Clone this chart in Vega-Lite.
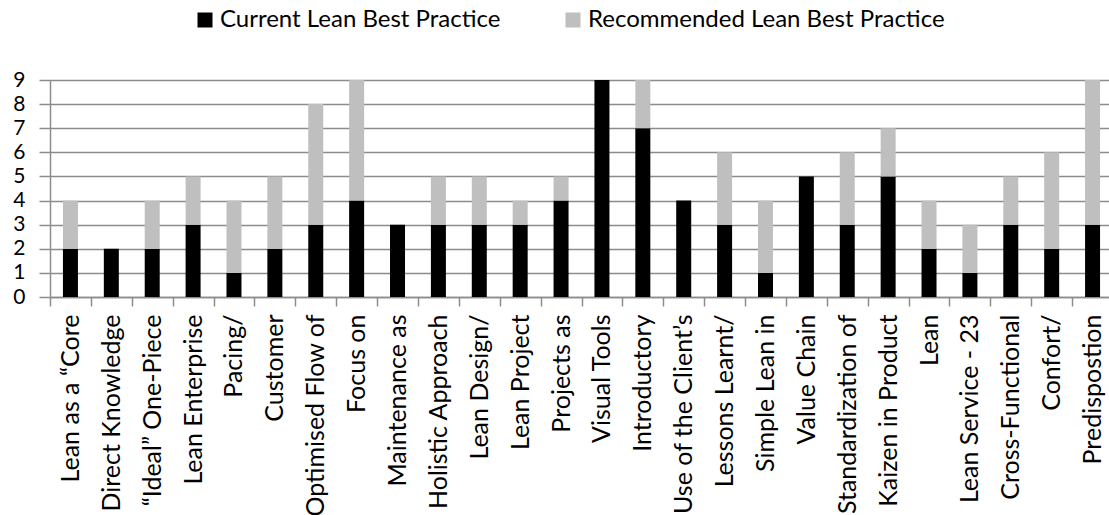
{
  "$schema": "https://vega.github.io/schema/vega-lite/v6.json",
  "width": 1063,
  "height": 217,
  "autosize": {"type": "none"},
  "padding": {"left": 50, "top": 80, "right": -4, "bottom": 218},
  "background": "white",
  "config": {
    "font": "Lato",
    "view": {"stroke": null}
  },
  "data": {
    "values": [
      {"cat": "Lean as a “Core", "series": "Current Lean Best Practice", "ord": 1, "value": 2},
      {"cat": "Lean as a “Core", "series": "Recommended Lean Best Practice", "ord": 2, "value": 2},
      {"cat": "Direct Knowledge", "series": "Current Lean Best Practice", "ord": 1, "value": 2},
      {"cat": "Direct Knowledge", "series": "Recommended Lean Best Practice", "ord": 2, "value": 0},
      {"cat": "“Ideal” One-Piece", "series": "Current Lean Best Practice", "ord": 1, "value": 2},
      {"cat": "“Ideal” One-Piece", "series": "Recommended Lean Best Practice", "ord": 2, "value": 2},
      {"cat": "Lean Enterprise", "series": "Current Lean Best Practice", "ord": 1, "value": 3},
      {"cat": "Lean Enterprise", "series": "Recommended Lean Best Practice", "ord": 2, "value": 2},
      {"cat": "Pacing/", "series": "Current Lean Best Practice", "ord": 1, "value": 1},
      {"cat": "Pacing/", "series": "Recommended Lean Best Practice", "ord": 2, "value": 3},
      {"cat": "Customer", "series": "Current Lean Best Practice", "ord": 1, "value": 2},
      {"cat": "Customer", "series": "Recommended Lean Best Practice", "ord": 2, "value": 3},
      {"cat": "Optimised Flow of", "series": "Current Lean Best Practice", "ord": 1, "value": 3},
      {"cat": "Optimised Flow of", "series": "Recommended Lean Best Practice", "ord": 2, "value": 5},
      {"cat": "Focus on", "series": "Current Lean Best Practice", "ord": 1, "value": 4},
      {"cat": "Focus on", "series": "Recommended Lean Best Practice", "ord": 2, "value": 5},
      {"cat": "Maintenance as", "series": "Current Lean Best Practice", "ord": 1, "value": 3},
      {"cat": "Maintenance as", "series": "Recommended Lean Best Practice", "ord": 2, "value": 0},
      {"cat": "Holistic Approach", "series": "Current Lean Best Practice", "ord": 1, "value": 3},
      {"cat": "Holistic Approach", "series": "Recommended Lean Best Practice", "ord": 2, "value": 2},
      {"cat": "Lean Design/", "series": "Current Lean Best Practice", "ord": 1, "value": 3},
      {"cat": "Lean Design/", "series": "Recommended Lean Best Practice", "ord": 2, "value": 2},
      {"cat": "Lean Project", "series": "Current Lean Best Practice", "ord": 1, "value": 3},
      {"cat": "Lean Project", "series": "Recommended Lean Best Practice", "ord": 2, "value": 1},
      {"cat": "Projects as", "series": "Current Lean Best Practice", "ord": 1, "value": 4},
      {"cat": "Projects as", "series": "Recommended Lean Best Practice", "ord": 2, "value": 1},
      {"cat": "Visual Tools", "series": "Current Lean Best Practice", "ord": 1, "value": 9},
      {"cat": "Visual Tools", "series": "Recommended Lean Best Practice", "ord": 2, "value": 0},
      {"cat": "Introductory", "series": "Current Lean Best Practice", "ord": 1, "value": 7},
      {"cat": "Introductory", "series": "Recommended Lean Best Practice", "ord": 2, "value": 2},
      {"cat": "Use of the Client’s", "series": "Current Lean Best Practice", "ord": 1, "value": 4},
      {"cat": "Use of the Client’s", "series": "Recommended Lean Best Practice", "ord": 2, "value": 0},
      {"cat": "Lessons Learnt/", "series": "Current Lean Best Practice", "ord": 1, "value": 3},
      {"cat": "Lessons Learnt/", "series": "Recommended Lean Best Practice", "ord": 2, "value": 3},
      {"cat": "Simple Lean in", "series": "Current Lean Best Practice", "ord": 1, "value": 1},
      {"cat": "Simple Lean in", "series": "Recommended Lean Best Practice", "ord": 2, "value": 3},
      {"cat": "Value Chain", "series": "Current Lean Best Practice", "ord": 1, "value": 5},
      {"cat": "Value Chain", "series": "Recommended Lean Best Practice", "ord": 2, "value": 0},
      {"cat": "Standardization of", "series": "Current Lean Best Practice", "ord": 1, "value": 3},
      {"cat": "Standardization of", "series": "Recommended Lean Best Practice", "ord": 2, "value": 3},
      {"cat": "Kaizen in Product", "series": "Current Lean Best Practice", "ord": 1, "value": 5},
      {"cat": "Kaizen in Product", "series": "Recommended Lean Best Practice", "ord": 2, "value": 2},
      {"cat": "Lean", "series": "Current Lean Best Practice", "ord": 1, "value": 2},
      {"cat": "Lean", "series": "Recommended Lean Best Practice", "ord": 2, "value": 2},
      {"cat": "Lean Service - 23", "series": "Current Lean Best Practice", "ord": 1, "value": 1},
      {"cat": "Lean Service - 23", "series": "Recommended Lean Best Practice", "ord": 2, "value": 2},
      {"cat": "Cross-Functional", "series": "Current Lean Best Practice", "ord": 1, "value": 3},
      {"cat": "Cross-Functional", "series": "Recommended Lean Best Practice", "ord": 2, "value": 2},
      {"cat": "Confort/", "series": "Current Lean Best Practice", "ord": 1, "value": 2},
      {"cat": "Confort/", "series": "Recommended Lean Best Practice", "ord": 2, "value": 4},
      {"cat": "Predispostion", "series": "Current Lean Best Practice", "ord": 1, "value": 3},
      {"cat": "Predispostion", "series": "Recommended Lean Best Practice", "ord": 2, "value": 6}
    ]
  },
  "mark": {"type": "bar", "width": 15},
  "encoding": {
    "x": {
      "field": "cat",
      "type": "nominal",
      "sort": null,
      "scale": {"paddingInner": 0, "paddingOuter": 0},
      "axis": {
        "title": null,
        "labelAngle": -90,
        "labelFontSize": 25,
        "labelColor": "#000000",
        "labelPadding": 8,
        "labelLimit": 400,
        "labelOverlap": false,
        "tickBand": "extent",
        "tickSize": 9,
        "tickColor": "#8c8c8c",
        "tickWidth": 1.5,
        "domainColor": "#8c8c8c",
        "domainWidth": 1.5,
        "grid": false
      }
    },
    "y": {
      "field": "value",
      "type": "quantitative",
      "stack": "zero",
      "scale": {"domain": [0, 9], "nice": false},
      "axis": {
        "title": null,
        "values": [0, 1, 2, 3, 4, 5, 6, 7, 8, 9],
        "labelFontSize": 21,
        "labelColor": "#000000",
        "labelPadding": 14,
        "labelOverlap": false,
        "labelBound": false,
        "tickSize": 11,
        "tickColor": "#8c8c8c",
        "tickWidth": 1.5,
        "domainColor": "#8c8c8c",
        "domainWidth": 1.5,
        "grid": true,
        "gridColor": "#8c8c8c",
        "gridWidth": 1.5
      }
    },
    "color": {
      "field": "series",
      "type": "nominal",
      "scale": {
        "domain": ["Current Lean Best Practice", "Recommended Lean Best Practice"],
        "range": ["#000000", "#bfbfbf"]
      },
      "legend": {
        "title": null,
        "orient": "none",
        "direction": "horizontal",
        "legendX": 143,
        "legendY": -72,
        "symbolType": "square",
        "symbolSize": 225,
        "symbolStrokeWidth": 0,
        "labelFontSize": 24,
        "labelColor": "#000000",
        "labelLimit": 500,
        "labelOffset": 3,
        "columnPadding": 60
      }
    },
    "order": {"field": "ord", "type": "quantitative"}
  }
}
